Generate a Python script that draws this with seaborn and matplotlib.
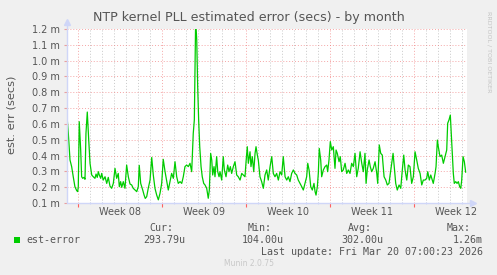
import matplotlib
matplotlib.use("Agg")
import numpy as np
import pandas as pd
import seaborn as sns
import matplotlib.pyplot as plt
from matplotlib.ticker import FixedLocator, MultipleLocator, FuncFormatter
from matplotlib.patches import Rectangle
from matplotlib.transforms import blended_transform_factory

# ---- data: days since Monday of Week 08, estimated error in milliseconds ----
days = [
    -0.94, -0.83, -0.69, -0.55, -0.42, -0.28, -0.13, -0.05, 0.00, 0.08, 0.20, 0.28, 0.37, 0.48,
    0.56, 0.64, 0.75, 0.87, 0.98, 1.12, 1.25, 1.39, 1.48, 1.58, 1.67, 1.75, 1.87, 1.95, 2.08,
    2.23, 2.37, 2.50, 2.64, 2.78, 2.92, 3.06, 3.20, 3.33, 3.42, 3.53, 3.62, 3.75, 3.89, 4.03,
    4.17, 4.31, 4.45, 4.58, 4.73, 4.87, 5.00, 5.08, 5.20, 5.37, 5.48, 5.58, 5.70, 5.83, 5.98,
    6.12, 6.25, 6.39, 6.53, 6.67, 6.81, 6.95, 7.08,
    7.23, 7.50, 7.64, 7.78, 7.92, 8.06, 8.20, 8.33, 8.48, 8.62, 8.75, 8.89, 9.03, 9.17, 9.31,
    9.45, 9.58, 9.67, 9.78, 9.87, 9.95, 10.03, 10.12, 10.23, 10.33, 10.45, 10.56, 10.70, 10.83,
    10.92, 11.03, 11.12, 11.20, 11.31, 11.39, 11.53, 11.62, 11.73, 11.81, 11.95, 12.08, 12.17,
    12.31, 12.45, 12.56, 12.67, 12.78, 12.92, 13.06, 13.20, 13.33, 13.48, 13.62, 13.75, 13.89, 13.98,
    14.08, 14.17, 14.31, 14.39, 14.50, 14.62, 14.73, 14.81, 14.92, 15.00, 15.14, 15.28, 15.42,
    15.56, 15.70, 15.83, 15.98, 16.12, 16.25, 16.39, 16.53, 16.67, 16.81, 16.95, 17.08, 17.23,
    17.37, 17.50, 17.64, 17.78, 17.92, 18.06, 18.20, 18.33, 18.48, 18.62, 18.75, 18.89, 19.03,
    19.12, 19.23, 19.37, 19.50, 19.64, 19.73, 19.81, 19.92, 20.00, 20.08, 20.20, 20.28, 20.42,
    20.56, 20.70, 20.78, 20.89,
    21.00, 21.12, 21.25, 21.39, 21.48, 21.58, 21.73, 21.83, 21.95, 22.08, 22.23, 22.37, 22.50,
    22.64, 22.78, 22.92, 23.06, 23.20, 23.33, 23.48, 23.62, 23.75, 23.89, 23.98, 24.08, 24.23,
    24.33, 24.45, 24.58, 24.73, 24.87, 24.95, 25.08, 25.20, 25.33, 25.48, 25.62, 25.75, 25.89,
    26.00, 26.12, 26.23, 26.33, 26.45, 26.58, 26.73, 26.87, 27.00, 27.12, 27.23, 27.37, 27.50,
    27.64, 27.78, 27.92,
    28.06, 28.20, 28.33, 28.48, 28.62, 28.75, 28.89, 29.03, 29.12, 29.25, 29.37, 29.45, 29.58,
    29.73, 29.81, 29.92, 30.00, 30.14, 30.28, 30.42, 30.56, 30.70, 30.78, 30.89, 31.00, 31.08,
    31.17, 31.25, 31.33, 31.45, 31.56, 31.67, 31.78, 31.87, 31.95, 32.06, 32.17, 32.28,
]
est_error_ms = [
    0.649, 0.54, 0.372, 0.329, 0.266, 0.203, 0.178, 0.172, 0.203, 0.614, 0.435, 0.266, 0.256, 0.262,
    0.25, 0.54, 0.675, 0.498, 0.35, 0.277, 0.266, 0.256, 0.283, 0.262, 0.298, 0.277, 0.256, 0.287, 0.245,
    0.266, 0.224, 0.262, 0.207, 0.193, 0.224, 0.319, 0.256, 0.287, 0.203, 0.235, 0.199, 0.235, 0.193, 0.34,
    0.266, 0.22, 0.214, 0.193, 0.182, 0.172, 0.203, 0.338, 0.224, 0.182, 0.151, 0.129, 0.14, 0.193, 0.245,
    0.388, 0.277, 0.193, 0.151, 0.12, 0.161, 0.224, 0.376,
    0.298, 0.182, 0.235, 0.287, 0.256, 0.361, 0.266, 0.224, 0.235, 0.224, 0.266, 0.33, 0.34, 0.33, 0.351,
    0.298, 0.54, 0.625, 1.26, 1.13, 0.835, 0.625, 0.456, 0.33, 0.266, 0.224, 0.214, 0.193, 0.13,
    0.182, 0.414, 0.372, 0.277, 0.33, 0.266, 0.393, 0.298, 0.266, 0.298, 0.245, 0.393, 0.309,
    0.266, 0.34, 0.298, 0.33, 0.287, 0.33, 0.361, 0.277, 0.266, 0.245, 0.287, 0.277, 0.266, 0.361,
    0.456, 0.351, 0.424, 0.33, 0.393, 0.298, 0.414, 0.456, 0.403, 0.372, 0.266, 0.235, 0.193,
    0.277, 0.309, 0.245, 0.33, 0.393, 0.287, 0.266, 0.287, 0.245, 0.298, 0.277, 0.393, 0.266,
    0.245, 0.266, 0.235, 0.287, 0.309, 0.287, 0.277, 0.245, 0.224, 0.203, 0.182, 0.224, 0.266,
    0.351, 0.309, 0.203, 0.182, 0.224, 0.172, 0.15, 0.203, 0.287, 0.445, 0.372, 0.266, 0.309,
    0.33, 0.34, 0.298, 0.372,
    0.488, 0.435, 0.456, 0.319, 0.435, 0.414, 0.361, 0.393, 0.298, 0.309, 0.351, 0.287, 0.309,
    0.287, 0.351, 0.33, 0.414, 0.266, 0.319, 0.424, 0.351, 0.298, 0.414, 0.224, 0.309, 0.372,
    0.33, 0.298, 0.319, 0.361, 0.287, 0.224, 0.467, 0.414, 0.403, 0.266, 0.245, 0.214, 0.224,
    0.287, 0.351, 0.414, 0.33, 0.224, 0.182, 0.214, 0.193, 0.309, 0.403, 0.309, 0.245, 0.34,
    0.33, 0.224, 0.266,
    0.424, 0.372, 0.319, 0.287, 0.214, 0.245, 0.245, 0.256, 0.298, 0.245, 0.277, 0.256, 0.224,
    0.287, 0.33, 0.498, 0.456, 0.393, 0.403, 0.351, 0.393, 0.435, 0.604, 0.625, 0.656, 0.54,
    0.414, 0.287, 0.224, 0.235, 0.224, 0.235, 0.203, 0.193, 0.245, 0.393, 0.361, 0.294,
]

week_starts = [0, 7, 14, 21, 28]
week_labels = ["Week 08", "Week 09", "Week 10", "Week 11", "Week 12"]
y_ticks = [0.1, 0.2, 0.3, 0.4, 0.5, 0.6, 0.7, 0.8, 0.9, 1.0, 1.1, 1.2]
series_name = "est-error"
stat_headers = ["Cur:", "Min:", "Avg:", "Max:"]
stat_values = ["293.79u", "104.00u", "302.00u", "1.26m"]
title = "NTP kernel PLL estimated error (secs) - by month"
ylabel = "est. err (secs)"
last_update = "Last update: Fri Mar 20 07:00:23 2026"
footer = "Munin 2.0.75"
watermark = "RRDTOOL / TOBI OETIKER"

# ---- style ----
sns.set_theme(style="white")
plt.rcParams['font.family'] = ['DejaVu Sans']

W, H = 497, 275
BG = "#F0F0F0"
FONT = "#555555"
AXIS = "#CFD6F8"
GREEN = "#00CC00"

def fx(px):
    return px / W

def fy(py):
    return 1 - py / H

fig = plt.figure(figsize=(W / 100, H / 100), dpi=100, facecolor=BG)
ax = fig.add_axes([fx(67), fy(203), 400 / W, 174 / H])
ax.set_facecolor("white")

df = pd.DataFrame({"day": days, "err": est_error_ms})
sns.lineplot(data=df, x="day", y="err", ax=ax, color=GREEN, lw=0.9,
             estimator=None, sort=False, legend=False, zorder=5)

ax.set_xlim(-0.94, 32.39)
ax.set_ylim(0.1, 1.2)
ax.set_xlabel("")
ax.set_ylabel("")

# grid
ax.xaxis.set_major_locator(FixedLocator(week_starts))
ax.xaxis.set_minor_locator(MultipleLocator(1))
ax.yaxis.set_major_locator(FixedLocator(y_ticks))
ax.yaxis.set_major_formatter(FuncFormatter(lambda v, p: f"{v:.1f} m"))
ax.grid(False)
ax.grid(which="minor", axis="x", color="#C8C8C8", lw=0.7, ls=(0, (1, 2)))
ax.grid(which="major", axis="both", color="#F08080", alpha=0.7, lw=0.7, ls=(0, (1, 2)))
ax.set_axisbelow(True)

for s in ax.spines.values():
    s.set_visible(False)

ax.tick_params(axis="x", which="major", length=3, color="#FF6060", labelbottom=False, bottom=True, direction="out", width=0.8)
ax.tick_params(axis="x", which="minor", length=2, color=AXIS, bottom=True, direction="inout", width=0.8)
ax.tick_params(axis="y", which="major", length=2, color="#E8A0A0", left=True, labelsize=7,
               labelcolor=FONT, pad=3, width=0.8)

# axis lines with arrows
ax.plot([0, 0], [0, 1 + 5 / 174], color=AXIS, lw=1, transform=ax.transAxes, clip_on=False, zorder=6)
ax.plot([0], [1 + 7 / 174], marker="^", ms=4.5, color=AXIS, transform=ax.transAxes, clip_on=False, zorder=6)
ax.plot([0, 1 + 4 / 400], [0, 0], color=AXIS, lw=1, transform=ax.transAxes, clip_on=False, zorder=6)
ax.plot([1 + 6 / 400], [0], marker=">", ms=4.5, color=AXIS, transform=ax.transAxes, clip_on=False, zorder=6)

# week labels centered in each week
trans = blended_transform_factory(ax.transData, ax.transAxes)
for ws, lab in zip(week_starts, week_labels):
    ax.text(ws + 3.5, -9 / 174, lab, transform=trans, ha="center", va="center",
            fontsize=7, color=FONT)

# title / labels
fig.text(0.5, fy(17), title, ha="center", va="center", fontsize=9.1, color=FONT)
fig.text(fx(11.5), fy(115), ylabel, rotation=90, ha="center", va="center", fontsize=8.2, color=FONT)
fig.text(fx(489), fy(52), watermark, rotation=270, ha="center", va="center", fontsize=4.6, color="#C4C4C4")

# legend area
mono = "DejaVu Sans Mono"
fig.add_artist(Rectangle((fx(14), fy(243)), 6 / W, 6 / H, transform=fig.transFigure,
                         facecolor=GREEN, edgecolor="none"))
fig.text(fx(26), fy(240), series_name, ha="left", va="center", fontsize=7.2, family=mono, color=FONT)
header_left = [149, 248, 348, 447]
value_right = [185, 284, 383, 483]
for h, xl in zip(stat_headers, header_left):
    fig.text(fx(xl), fy(228), h, ha="left", va="center", fontsize=7.2, family=mono, color=FONT)
for v, xr in zip(stat_values, value_right):
    fig.text(fx(xr), fy(240), v, ha="right", va="center", fontsize=7.2, family=mono, color=FONT)
fig.text(fx(483), fy(252), last_update, ha="right", va="center", fontsize=7.2, family=mono, color=FONT)
fig.text(0.5, fy(264), footer, ha="center", va="center", fontsize=5.5, color="#C8C8C8")

fig.savefig("out.png", dpi=100, facecolor=BG)
